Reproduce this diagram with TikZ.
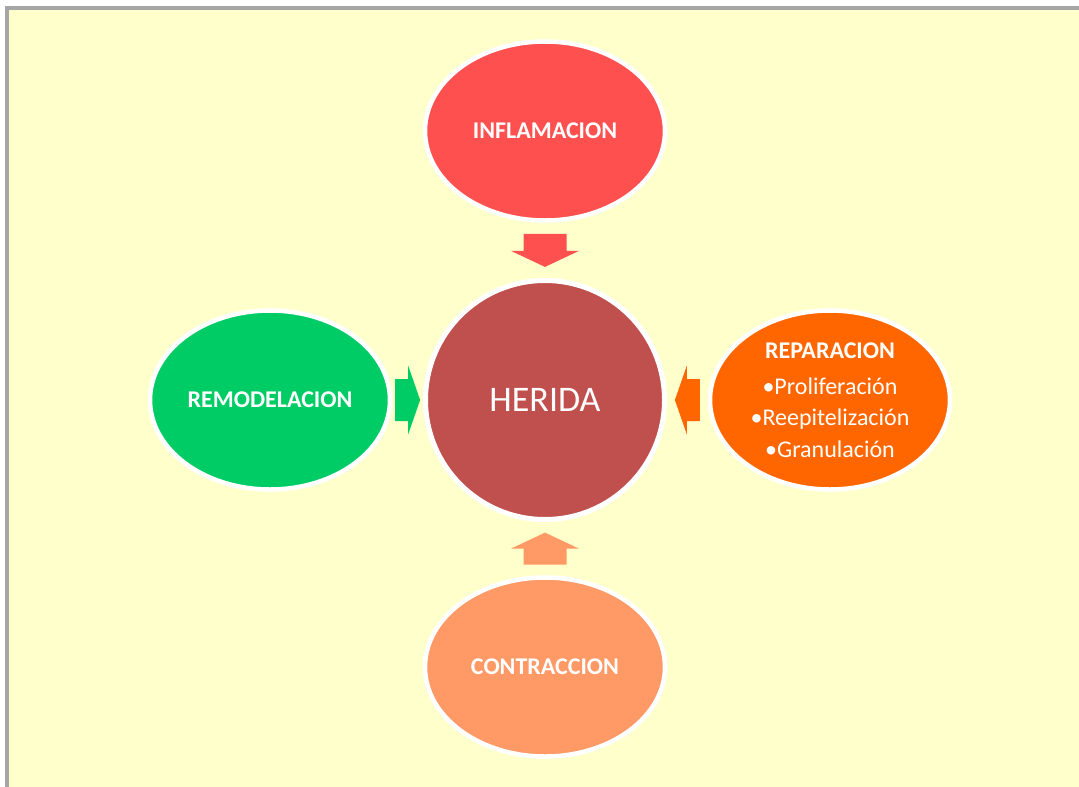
\documentclass[tikz,border=0pt]{standalone}
\usepackage{fontspec}
\setmainfont{Carlito}
\usetikzlibrary{shapes.geometric,calc}

\definecolor{fondo}{HTML}{FFFFCC}
\definecolor{marco}{HTML}{A6A6A6}
\definecolor{rojo}{HTML}{FF5050}
\definecolor{vino}{HTML}{C0504D}
\definecolor{verde}{HTML}{00CC66}
\definecolor{naranja}{HTML}{FF6600}
\definecolor{salmon}{HTML}{FF9966}

\tikzset{
  fase/.style={ellipse, draw=white, line width=4.5pt, minimum width=240pt, minimum height=179pt,
    inner sep=0pt, text=white, font=\fontsize{24}{31.5}\selectfont\bfseries},
  centro/.style={circle, draw=white, line width=5pt, fill=vino, minimum size=239pt,
    inner sep=0pt, text=white, font=\fontsize{36}{40}\selectfont}
}

\begin{document}
\begin{tikzpicture}[x=1pt, y=-1pt]
        \useasboundingbox (0,0) rectangle (1079,787);
        \fill [fondo] (5,6) rectangle (1079,787);
        \fill [marco] (5,6) rectangle (1079,10);
        \fill [marco] (5,6) rectangle (9,787);

        \node [centro] (her) at (545,400) {HERIDA};
        \node [fase, fill=rojo] (inf) at (545,131) {INFLAMACION};
        \node [fase, fill=verde] (rem) at (270,400) {REMODELACION};
        \node [fase, fill=naranja, align=center] (rep) at (830,400)
            {REPARACION\\[4.5pt]{\mdseries •Proliferación}\\{\mdseries •Reepitelización}\\{\mdseries •Granulación}};
        \node [fase, fill=salmon] (con) at (545,667) {CONTRACCION};

        \coordinate (a1) at ($(inf.south)!0.5!(her.north)$);
        \coordinate (a2) at ($(rem.east)!0.5!(her.west)$);
        \coordinate (a3) at ($(rep.west)!0.5!(her.east)$);
        \coordinate (a4) at ($(con.north)!0.5!(her.south)$);

        \fill [rojo, shift={(a1)}] (-21.5,-16.5) -- (21.5,-16.5) -- (21.5,0.5) -- (34,0.5) -- (0,16.5) -- (-34,0.5) -- (-21.5,0.5) -- cycle;
        \fill [verde, shift={(a2)}] (-12.5,-21) -- (0.5,-21) -- (0.5,-34.5) -- (12.5,0) -- (0.5,34.5) -- (0.5,21) -- (-12.5,21) -- cycle;
        \fill [naranja, shift={(a3)}] (12.5,-21) -- (-0.5,-21) -- (-0.5,-34.5) -- (-12.5,0) -- (-0.5,34.5) -- (-0.5,21) -- (12.5,21) -- cycle;
        \fill [salmon, shift={(a4)}] (-21.5,16) -- (21.5,16) -- (21.5,0) -- (34,0) -- (0,-16) -- (-34,0) -- (-21.5,0) -- cycle;
\end{tikzpicture}
\end{document}
